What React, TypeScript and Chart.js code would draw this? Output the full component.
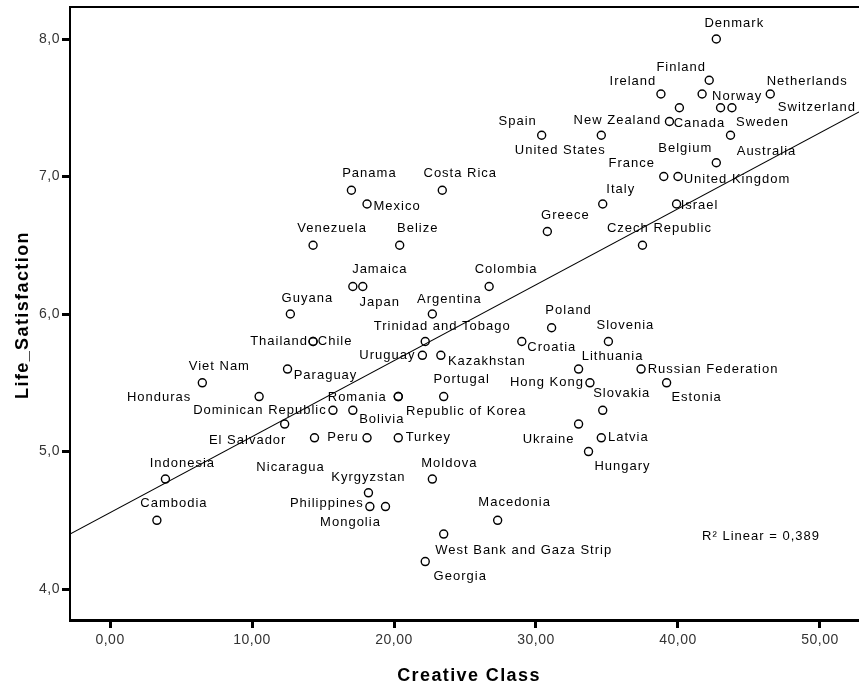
import React, { useEffect, useRef } from 'react';
import { Chart, registerables } from 'chart.js';

Chart.register(...registerables);

// ---- data ----
const countries = [
  'Denmark', 'Finland', 'Ireland', 'Norway', 'Netherlands', 'Switzerland', 'New Zealand', 'Sweden',
  'Canada', 'Spain', 'United States', 'Australia', 'Belgium', 'France', 'United Kingdom', 'Costa Rica',
  'Panama', 'Mexico', 'Italy', 'Israel', 'Greece', 'Venezuela', 'Belize', 'Czech Republic',
  'Jamaica', 'Japan', 'Colombia', 'Guyana', 'Argentina', 'Poland', 'Thailand', 'Chile',
  'Trinidad and Tobago', 'Croatia', 'Slovenia', 'Uruguay', 'Kazakhstan', 'Paraguay', 'Lithuania', 'Russian Federation',
  'Viet Nam', 'Hong Kong', 'Estonia', 'Honduras', 'Romania', 'Republic of Korea', 'Portugal', 'Dominican Republic',
  'Bolivia', 'Slovakia', 'El Salvador', 'Ukraine', 'Nicaragua', 'Peru', 'Turkey', 'Latvia',
  'Hungary', 'Indonesia', 'Moldova', 'Kyrgyzstan', 'Philippines', 'Mongolia', 'Cambodia', 'Macedonia',
  'West Bank and Gaza Strip', 'Georgia',
];
const creativeClass = [
  42.7, 42.2, 38.8, 41.7, 46.5, 43.8, 40.1, 43.0,
  39.4, 30.4, 34.6, 43.7, 42.7, 39.0, 40.0, 23.4,
  17.0, 18.1, 34.7, 39.9, 30.8, 14.3, 20.4, 37.5,
  17.1, 17.8, 26.7, 12.7, 22.7, 31.1, 14.3, 14.3,
  22.2, 29.0, 35.1, 22.0, 23.3, 12.5, 33.0, 37.4,
  6.5, 33.8, 39.2, 10.5, 20.3, 20.3, 23.5, 15.7,
  17.1, 34.7, 12.3, 33.0, 14.4, 18.1, 20.3, 34.6,
  33.7, 3.9, 22.7, 18.2, 18.3, 19.4, 3.3, 27.3,
  23.5, 22.2,
];
const lifeSatisfaction = [
  8.0, 7.7, 7.6, 7.6, 7.6, 7.5, 7.5, 7.5,
  7.4, 7.3, 7.3, 7.3, 7.1, 7.0, 7.0, 6.9,
  6.9, 6.8, 6.8, 6.8, 6.6, 6.5, 6.5, 6.5,
  6.2, 6.2, 6.2, 6.0, 6.0, 5.9, 5.8, 5.8,
  5.8, 5.8, 5.8, 5.7, 5.7, 5.6, 5.6, 5.6,
  5.5, 5.5, 5.5, 5.4, 5.4, 5.4, 5.4, 5.3,
  5.3, 5.3, 5.2, 5.2, 5.1, 5.1, 5.1, 5.1,
  5.0, 4.8, 4.8, 4.7, 4.6, 4.6, 4.5, 4.5,
  4.4, 4.2,
];

const xTickValues = [0, 10, 20, 30, 40, 50];
const yTickValues = [4, 5, 6, 7, 8];
const xRange = [-2.82, 52.75];
const yRange = [3.775, 8.233];

// fitted line end points
const fitLineX = [-2.82, 52.75];
const fitLineY = [4.40, 7.47];
const r2Text = 'R\u00B2 Linear = 0,389';
const r2At = [45.85, 4.385];

const xTitle = 'Creative Class';
const yTitle = 'Life_Satisfaction';

// ---- label placement (pixel offsets of each label from its point) ----
const labelDx = [
  18, -28, -28, 35, 37, 85, -62, 42,
  30, -24, -41, 36, -31, -32, 59, 18,
  18, 30, 18, 23, 18, 19, 18, 17,
  27, 17, 17, 17, 17, 17, -34, 22,
  17, 30, 17, -35, 46, 38, 34, 72,
  17, -43, 30, -100, -41, 68, 18, -73,
  29, 19, -37, -30, -24, -24, 30, 27,
  34, 17, 17, 0, -43, -35, 17, 17,
  80, 35,
];
const labelDy = [
  -16, -13, -13, 2, -13, 0, 13, 15,
  2, -14, 15, 16, -14, -13, 3, -17,
  -17, 2, -15, 1, -16, -17, -17, -17,
  -17, 16, -17, -16, -15, -17, 0, 0,
  -15, 6, -16, 0, 6, 6, -13, 0,
  -16, 0, 15, 1, 1, 15, -17, 0,
  9, -17, 16, 15, 30, 0, 0, 0,
  15, -16, -16, -15, -3, 16, -17, -18,
  16, 15,
];

const FAMILY = '"Liberation Sans", Arial, Helvetica, sans-serif';

const overlayPlugin = {
  id: 'overlay',
  beforeDraw(chart: any) {
    (chart.ctx as any).letterSpacing = '0.5px';
  },
  afterDatasetsDraw(chart: any) {
    const { ctx, scales } = chart;
    const meta = chart.getDatasetMeta(0);
    ctx.save();
    ctx.fillStyle = '#000';
    ctx.font = `13px ${FAMILY}`;
    (ctx as any).letterSpacing = '1px';
    ctx.textAlign = 'center';
    ctx.textBaseline = 'middle';
    meta.data.forEach((pt: any, i: number) => {
      ctx.fillText(countries[i], pt.x + labelDx[i], pt.y + labelDy[i]);
    });
    ctx.fillText(r2Text, scales.x.getPixelForValue(r2At[0]), scales.y.getPixelForValue(r2At[1]));
    ctx.restore();
  },
  afterDraw(chart: any) {
    const { ctx, chartArea } = chart;
    ctx.save();
    ctx.strokeStyle = '#000';
    ctx.lineWidth = 2;
    ctx.beginPath();
    ctx.moveTo(chartArea.left - 1, chartArea.top);
    ctx.lineTo(chartArea.right, chartArea.top);
    ctx.stroke();

    ctx.fillStyle = '#000';
    ctx.font = `bold 18px ${FAMILY}`;
    (ctx as any).letterSpacing = '1.4px';
    ctx.textAlign = 'center';
    ctx.textBaseline = 'alphabetic';
    ctx.fillText(xTitle, 469, 681);
    ctx.translate(28, 315);
    ctx.rotate(-Math.PI / 2);
    ctx.fillText(yTitle, 0, 0);
    ctx.restore();
    (ctx as any).letterSpacing = '0px';
  },
};

export default function App() {
  const ref = useRef<HTMLCanvasElement>(null);
  useEffect(() => {
    const points = creativeClass.map((x, i) => ({ x, y: lifeSatisfaction[i] }));
    const fit = fitLineX.map((x, i) => ({ x, y: fitLineY[i] }));
    const chart = new Chart(ref.current as HTMLCanvasElement, {
      type: 'scatter',
      data: {
        datasets: [
          {
            type: 'scatter',
            data: points,
            pointStyle: 'circle',
            pointRadius: 4,
            pointBorderWidth: 1.4,
            pointBorderColor: '#000',
            pointBackgroundColor: 'rgba(255,255,255,0)',
            showLine: false,
          } as any,
          {
            type: 'line',
            data: fit,
            borderColor: '#000',
            borderWidth: 1.2,
            pointRadius: 0,
            fill: false,
            tension: 0,
          } as any,
        ],
      },
      options: {
        animation: false,
        responsive: false,
        devicePixelRatio: 1,
        layout: { autoPadding: false, padding: { top: 7, left: 0, right: 0, bottom: 0 } },
        plugins: {
          legend: { display: false },
          tooltip: { enabled: false },
        },
        scales: {
          x: {
            type: 'linear',
            min: xRange[0],
            max: xRange[1],
            afterBuildTicks: (s: any) => {
              s.ticks = xTickValues.map((v) => ({ value: v }));
            },
            afterFit: (s: any) => {
              s.height = 67;
              s.paddingLeft = 0;
              s.paddingRight = 0;
            },
            ticks: {
              callback: (v: any) => Number(v).toFixed(2).replace('.', ','),
              font: { size: 14, family: FAMILY },
              color: '#333',
              padding: 4,
              maxRotation: 0,
              autoSkip: false,
            },
            grid: {
              display: true,
              drawOnChartArea: false,
              drawTicks: true,
              tickLength: 8,
              tickWidth: 3,
              tickColor: '#000',
            },
            border: { display: true, color: '#000', width: 3 },
          },
          y: {
            type: 'linear',
            min: yRange[0],
            max: yRange[1],
            afterBuildTicks: (s: any) => {
              s.ticks = yTickValues.map((v) => ({ value: v }));
            },
            afterFit: (s: any) => {
              s.width = 70;
              s.paddingTop = 0;
              s.paddingBottom = 0;
            },
            ticks: {
              callback: (v: any) => Number(v).toFixed(1).replace('.', ','),
              font: { size: 14, family: FAMILY },
              color: '#333',
              padding: 2,
              autoSkip: false,
            },
            grid: {
              display: true,
              drawOnChartArea: false,
              drawTicks: true,
              tickLength: 8,
              tickWidth: 3,
              tickColor: '#000',
            },
            border: { display: true, color: '#000', width: 2 },
          },
        },
      } as any,
      plugins: [overlayPlugin as any],
    });
    return () => chart.destroy();
  }, []);

  return (
    <div style={{ position: 'fixed', left: 0, top: 0, width: 859, height: 687, background: '#fff' }}>
      <canvas ref={ref} width={859} height={687} style={{ display: 'block', width: 859, height: 687 }} />
    </div>
  );
}
